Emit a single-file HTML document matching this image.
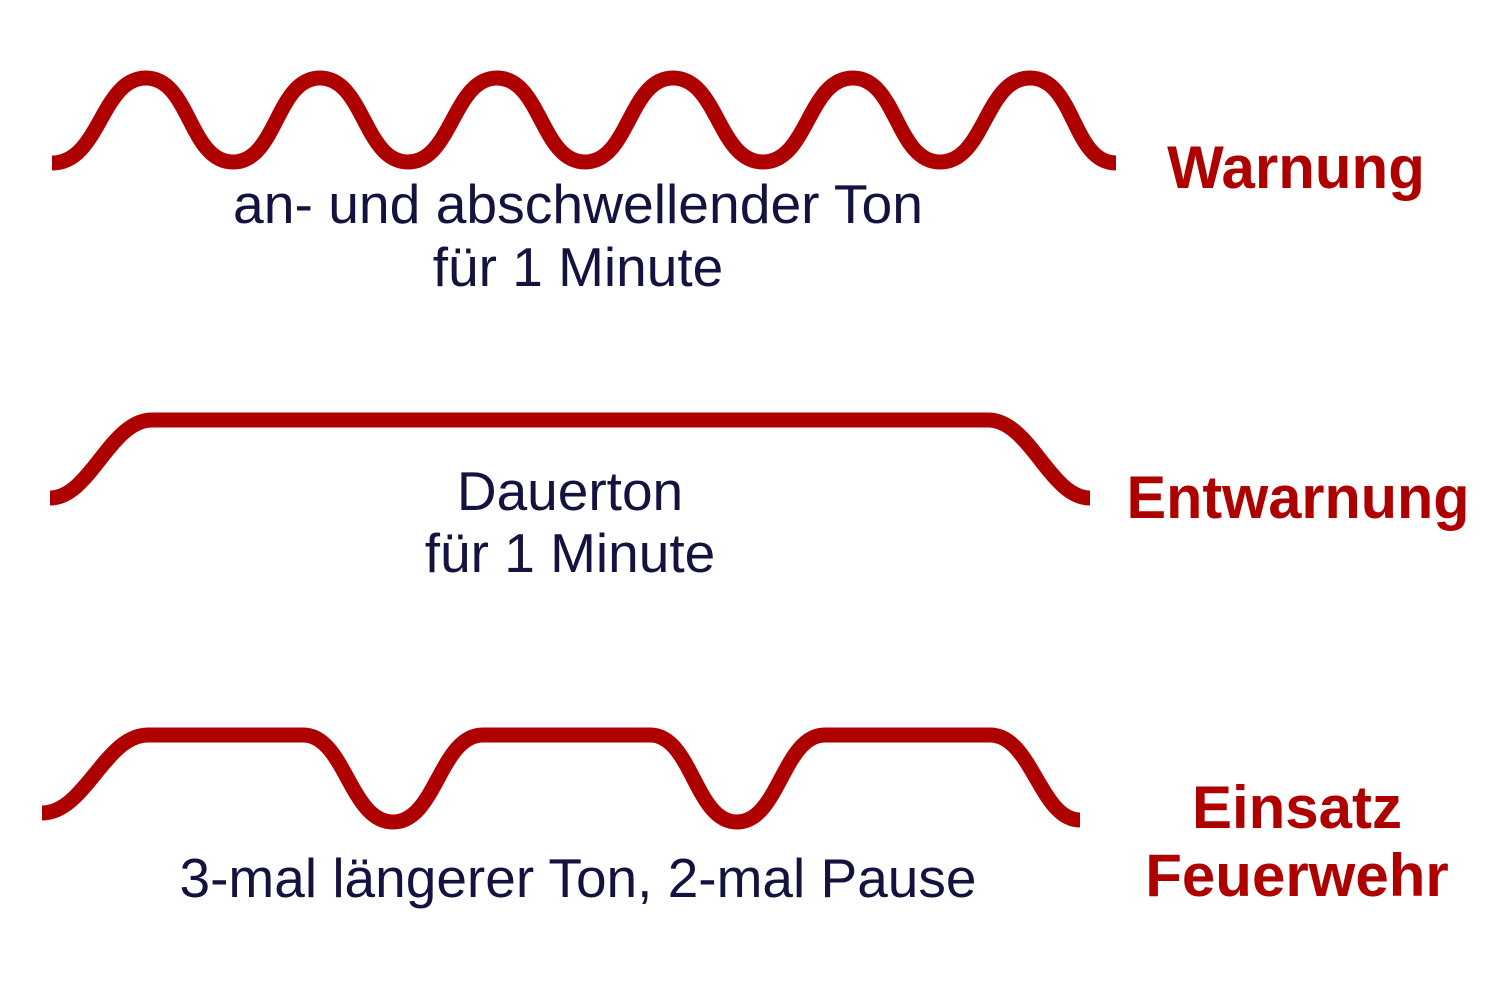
<!DOCTYPE html>
<html><head><meta charset="utf-8"><style>
html,body{margin:0;padding:0;background:#fff;}
svg{display:block}
.t{font-family:"Liberation Sans",Arial,sans-serif;font-size:55px;fill:#14123f;text-anchor:middle}
.r{font-family:"Liberation Sans",Arial,sans-serif;font-size:60px;font-weight:bold;fill:#af0000;text-anchor:middle}
path{fill:none;stroke:#af0000;stroke-width:15;stroke-linejoin:round}
</style></head><body>
<svg width="1500" height="1000" viewBox="0 0 1500 1000">
<path d="M52,163 C100,163 101,78 146,78 C190,78 189,162 233,162 C277,162 276,78 320,78 C364,78 364,162 408,162 C452,162 453,78 497,78 C541,78 541,162 585,162 C629,162 629,78 673,78 C718,78 718,162 763,162 C808,162 808,78 853,78 C897,78 896,162 940,162 C985,162 985,78 1030,78 C1075,78 1072,163 1116,163"/>
<path d="M50,498 C90,498 110,420 152,420 L988,420 C1030,420 1050,498 1090,498"/>
<path d="M42,813 C85,813 105,735 148,735 L303,735 C345,735 350,822 393,822 C436,822 440,735 483,735 L650,735 C692,735 695,822 737,822 C779,822 783,735 825,735 L990,735 C1032,735 1040,820 1080,820"/>
<text class="t" x="578" y="223" textLength="690" lengthAdjust="spacingAndGlyphs">an- und abschwellender Ton</text>
<text class="t" x="578" y="286">für 1 Minute</text>
<text class="t" x="570" y="510">Dauerton</text>
<text class="t" x="570" y="572">für 1 Minute</text>
<text class="t" x="578" y="897" textLength="797" lengthAdjust="spacingAndGlyphs">3-mal längerer Ton, 2-mal Pause</text>
<text class="r" x="1296" y="188">Warnung</text>
<text class="r" x="1298" y="518" textLength="343" lengthAdjust="spacingAndGlyphs">Entwarnung</text>
<text class="r" x="1297" y="828">Einsatz</text>
<text class="r" x="1297" y="896">Feuerwehr</text>
</svg>
</body></html>
